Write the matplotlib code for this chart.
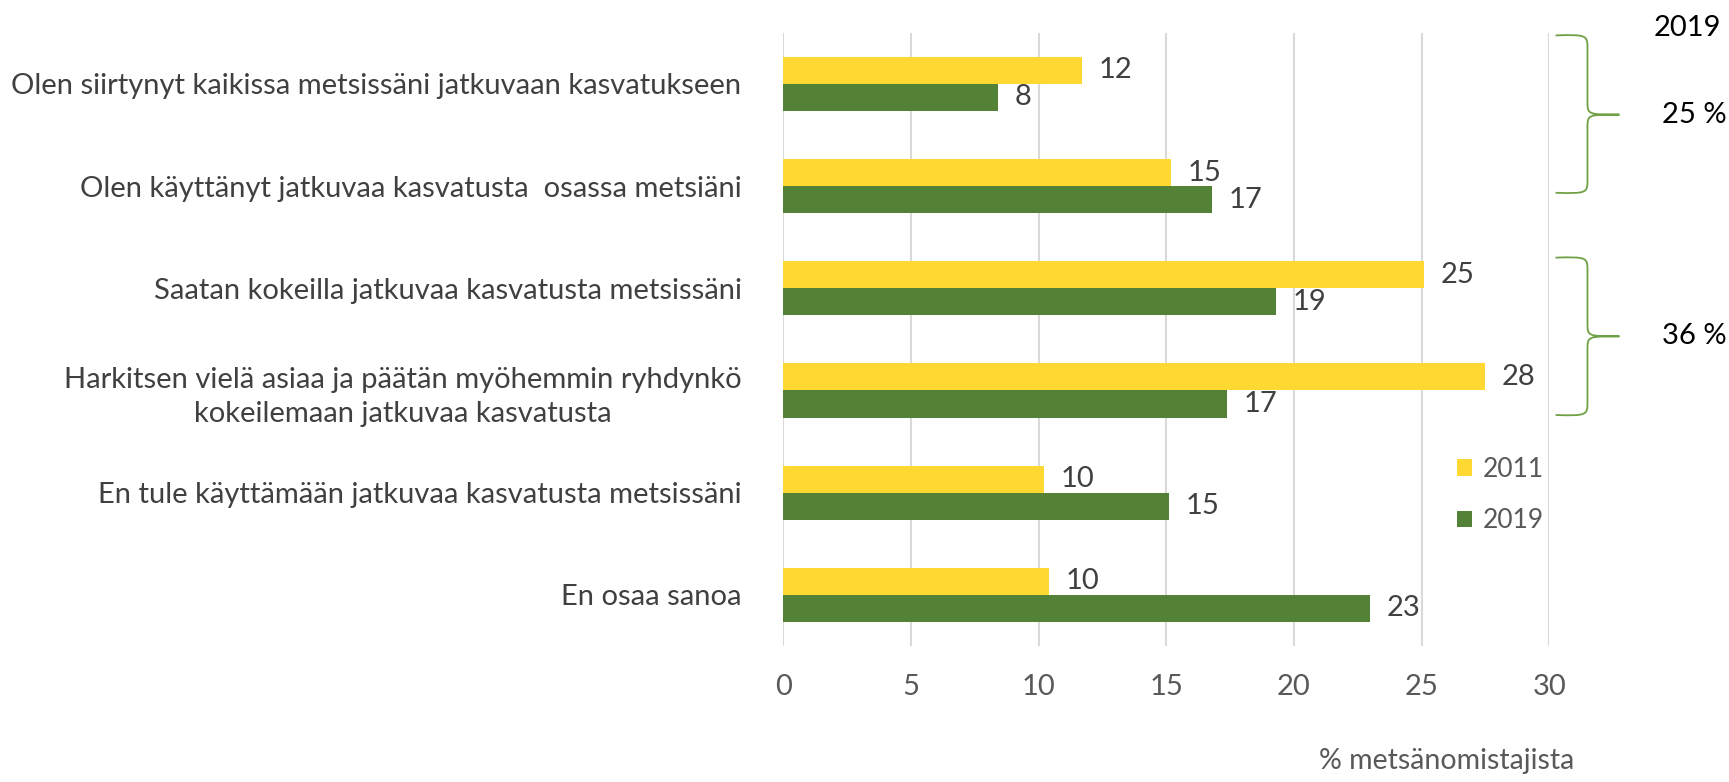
import matplotlib.pyplot as plt
from matplotlib.path import Path
from matplotlib.patches import PathPatch
import numpy as np

plt.rcParams['font.family'] = ['Lato', 'DejaVu Sans']

# Data
categories = [
    "Olen siirtynyt kaikissa metsissäni jatkuvaan kasvatukseen",
    "Olen käyttänyt jatkuvaa kasvatusta  osassa metsiäni",
    "Saatan kokeilla jatkuvaa kasvatusta metsissäni",
    "Harkitsen vielä asiaa ja päätän myöhemmin ryhdynkö\nkokeilemaan jatkuvaa kasvatusta",
    "En tule käyttämään jatkuvaa kasvatusta metsissäni",
    "En osaa sanoa",
]
vals_2011 = [11.7, 15.2, 25.1, 27.5, 10.2, 10.4]
vals_2019 = [8.4, 16.8, 19.3, 17.4, 15.1, 23.0]
labels_2011 = ["12", "15", "25", "28", "10", "10"]
labels_2019 = ["8", "17", "19", "17", "15", "23"]
xticks = [0, 5, 10, 15, 20, 25, 30]

yellow = "#FFD932"
green = "#538135"
brace_green = "#70A045"
grey_text = "#595959"
dark_text = "#404040"

fig = plt.figure(figsize=(17.29, 7.82), dpi=100)
ax = fig.add_axes([0.453, 0.174, 0.443, 0.784])

y = np.arange(len(categories))
h = 0.265
ax.barh(y - h / 2, vals_2011, height=h, color=yellow, label="2011", zorder=3)
ax.barh(y + h / 2, vals_2019, height=h, color=green, label="2019", zorder=3)

for i in range(len(categories)):
    ax.text(vals_2011[i] + 0.65, y[i] - h / 2, labels_2011[i], va="center", ha="left",
            fontsize=21, color=dark_text)
    ax.text(vals_2019[i] + 0.65, y[i] + h / 2, labels_2019[i], va="center", ha="left",
            fontsize=21, color=dark_text)

ax.set_xlim(0, 30)
ax.set_ylim(5.5, -0.5)
ax.set_xticks(xticks)
ax.set_xticklabels([str(t) for t in xticks], fontsize=21, color=grey_text)
ax.tick_params(axis="x", length=0, pad=20)
ax.set_yticks(y)
ax.set_yticklabels(categories, fontsize=21, color=dark_text, multialignment="center",
                   linespacing=1.4)
ax.tick_params(axis="y", length=0, pad=30)
ax.grid(axis="x", color="#D9D9D9", linewidth=1.5, zorder=0)
for s in ax.spines.values():
    s.set_visible(False)

leg = ax.legend(loc="center left", bbox_to_anchor=(0.848, 0.246), frameon=False,
                fontsize=19, handlelength=0.6, handleheight=0.6, labelspacing=1.0,
                handletextpad=0.4)
for t in leg.get_texts():
    t.set_color(grey_text)

fig.text(0.763, 0.016, "% metsänomistajista", fontsize=20.5, color=grey_text, ha="left")


# Curly braces to the right of the plot
def brace(y0, y1, ym):
    x0, xv, xt = 30.25, 31.5, 32.75
    r = 0.13
    verts = [
        (x0, y0), (xv, y0 - 0.01), (xv, y0), (xv, y0 + r),
        (xv, ym - r),
        (xv, ym), (xv, ym), (xt, ym),
        (xv, ym), (xv, ym), (xv, ym + r),
        (xv, y1 - r),
        (xv, y1), (xv, y1 + 0.01), (x0, y1),
    ]
    codes = [Path.MOVETO, Path.CURVE4, Path.CURVE4, Path.CURVE4,
             Path.LINETO,
             Path.CURVE4, Path.CURVE4, Path.CURVE4,
             Path.CURVE4, Path.CURVE4, Path.CURVE4,
             Path.LINETO,
             Path.CURVE4, Path.CURVE4, Path.CURVE4]
    ax.add_patch(PathPatch(Path(verts, codes), fill=False, edgecolor=brace_green,
                           linewidth=1.3, clip_on=False))


brace(-0.475, 1.065, 0.30)
brace(1.70, 3.24, 2.47)

ax.text(34.1, -0.55, "2019", fontsize=21, color="black", ha="left", va="center", clip_on=False)
ax.text(34.4, 0.30, "25 %", fontsize=21, color="black", ha="left", va="center", clip_on=False)
ax.text(34.4, 2.47, "36 %", fontsize=21, color="black", ha="left", va="center", clip_on=False)

fig.savefig("out.png", dpi=100)
